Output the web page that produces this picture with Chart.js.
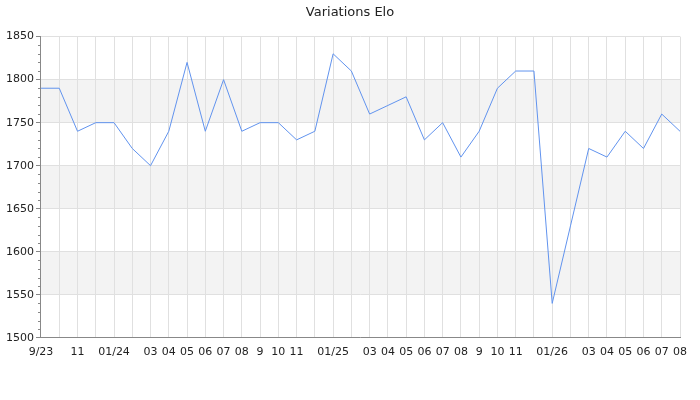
<!DOCTYPE html>
<html>
<head>
<meta charset="utf-8">
<script src="https://cdn.jsdelivr.net/npm/chart.js@4/dist/chart.umd.min.js"></script>
<style>
  html, body { margin: 0; padding: 0; background: #fff; }
  #wrap { width: 700px; height: 400px; }
</style>
</head>
<body>
<div id="wrap"><canvas id="eloChart" width="700" height="400"></canvas></div>
<script>
// one entry per month, Sep 2023 -> Aug 2026 (empty label = month not labelled)
const monthLabels = ['9/23', '', '11', '', '01/24', '', '03', '04', '05', '06', '07', '08',
    '9', '10', '11', '', '01/25', '', '03', '04', '05', '06', '07', '08',
    '9', '10', '11', '', '01/26', '', '03', '04', '05', '06', '07', '08'];
const eloValues = [1790, 1790, 1740, 1750, 1750, 1720, 1700, 1740, 1820, 1740, 1800, 1740,
    1750, 1750, 1730, 1740, 1830, 1810, 1760, 1770, 1780, 1730, 1750, 1710,
    1740, 1790, 1810, 1810, 1540, 1630, 1720, 1710, 1740, 1720, 1760, 1740];
const yMin = 1500;
const yMax = 1850;
const yStep = 50;
const yMinorStep = 10;
// shaded horizontal bands [from, to]
const bands = [[1750, 1800], [1650, 1700], [1550, 1600]];

const FONT = 'DejaVu Sans';

// grey bands behind the grid, and small minor ticks on the y axis
const decorations = {
    id: 'decorations',
    beforeDraw(chart) {
        const ctx = chart.ctx;
        const area = chart.chartArea;
        const y = chart.scales.y;
        ctx.save();
        ctx.fillStyle = '#f3f3f3';
        bands.forEach(b => {
            const top = y.getPixelForValue(b[1]);
            const bottom = y.getPixelForValue(b[0]);
            ctx.fillRect(area.left, top, area.right - area.left, bottom - top);
        });
        ctx.restore();
    },
    afterDraw(chart) {
        const ctx = chart.ctx;
        const y = chart.scales.y;
        const x0 = chart.chartArea.left;
        ctx.save();
        ctx.strokeStyle = '#888';
        ctx.lineWidth = 1;
        ctx.beginPath();
        for (let v = yMin; v <= yMax; v += yMinorStep) {
            if (v % yStep === 0) continue;
            const py = Math.round(y.getPixelForValue(v)) + 0.5;
            ctx.moveTo(x0 - 3, py);
            ctx.lineTo(x0, py);
        }
        ctx.stroke();
        ctx.restore();
    }
};

new Chart(document.getElementById('eloChart').getContext('2d'), {
    type: 'line',
    data: {
        labels: monthLabels,
        datasets: [{
            label: 'Elo',
            data: eloValues,
            borderColor: '#6193ee',
            borderWidth: 1,
            pointRadius: 0,
            fill: false,
            tension: 0
        }]
    },
    options: {
        responsive: false,
        animation: false,
        // symmetric padding keeps the title centred on the canvas
        layout: { padding: { left: 4, right: 4, top: 0, bottom: 33 } },
        plugins: {
            legend: { display: false },
            tooltip: { enabled: false },
            title: {
                display: true,
                text: 'Variations Elo',
                color: '#222',
                font: { family: FONT, size: 13, weight: 'normal' },
                padding: { top: 5, bottom: 16 }
            }
        },
        scales: {
            x: {
                offset: false,
                grid: { color: '#e0e0e0', drawTicks: false },
                border: { color: '#888' },
                ticks: {
                    autoSkip: false,
                    maxRotation: 0,
                    padding: 8,
                    color: '#222',
                    font: { family: FONT, size: 11 }
                }
            },
            y: {
                min: yMin,
                max: yMax,
                grid: { color: '#e0e0e0', tickColor: '#888', tickLength: 5 },
                border: { color: '#888' },
                ticks: {
                    stepSize: yStep,
                    padding: 2,
                    color: '#222',
                    font: { family: FONT, size: 11 },
                    callback: value => String(value)
                }
            },
            // empty spacer on the right
            spacer: {
                type: 'linear',
                position: 'right',
                afterFit: s => { s.width = 16; },
                grid: { display: false },
                border: { display: false },
                ticks: { display: false }
            }
        }
    },
    plugins: [decorations]
});
</script>
</body>
</html>
